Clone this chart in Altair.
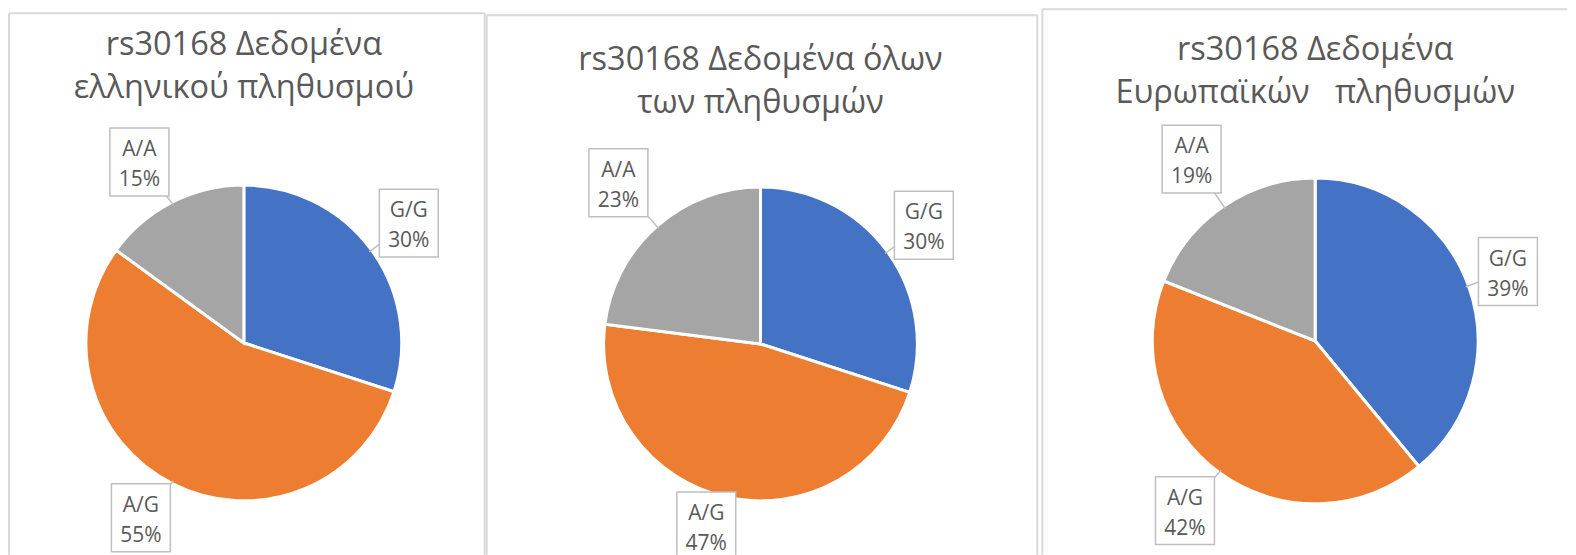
import altair as alt
import pandas as pd

# ---- data -------------------------------------------------------------
genotypes = ["G/G", "A/G", "A/A"]
greek_pct = [30, 55, 15]
all_pct = [30, 47, 23]
euro_pct = [39, 42, 19]
titles = [
    ["rs30168 Δεδομένα", "ελληνικού πληθυσμού"],
    ["rs30168 Δεδομένα όλων", "των πληθυσμών"],
    ["rs30168 Δεδομένα", "Ευρωπαϊκών\u00a0\u00a0 πληθυσμών"],
]
colors = ["#4472C4", "#ED7D31", "#A5A5A5"]

FONT = "Open Sans"
TXT = "#595959"
H = 547

# layout per panel: view width, pie centre, radius, border, title baselines,
# label callout distance (px) and angular nudge (deg) per slice
layouts = [
    dict(W=478, cx=236, cy=335, r=158, bl=1, bt=5, br=477, t1=47, t2=90,
         ld=[204, 203, 209], la=[0, 3.5, -3]),
    dict(W=554, cx=275, cy=336, r=157, bl=1, bt=7, br=552, t1=62, t2=105,
         ld=[202, 190, 215], la=[0, 4, 0]),
    dict(W=528, cx=276, cy=333, r=163, bl=3, bt=1, br=None, t1=52, t2=95,
         ld=[205, 214, 220], la=[0, 1.5, 0]),
]


def panel(values, title, L):
    df = pd.DataFrame({"genotype": genotypes, "pct": values,
                       "order": list(range(len(genotypes))),
                       "ld": L["ld"], "la": L["la"]})
    W, cx, cy, r = L["W"], L["cx"], L["cy"], L["r"]
    xs = alt.Scale(domain=[0, W], nice=False, zero=False)
    ys = alt.Scale(domain=[0, H], nice=False, zero=False, reverse=True)

    base = (
        alt.Chart(df)
        .transform_window(cum="sum(pct)", sort=[alt.SortField("order")],
                          frame=[None, 0])
        .transform_joinaggregate(total="sum(pct)")
        .transform_calculate(
            mid="2*PI*(datum.cum - datum.pct/2)/datum.total",
            pcttxt="datum.pct + '%'",
        )
        .transform_calculate(
            lmid="datum.mid + datum.la*PI/180",
        )
        .transform_calculate(
            lx=f"{cx} + datum.ld*sin(datum.lmid)",
            ly=f"{cy} - datum.ld*cos(datum.lmid)",
            ex=f"{cx} + {r - 3}*sin(datum.mid)",
            ey=f"{cy} - {r - 3}*cos(datum.mid)",
        )
        .transform_calculate(
            bx1="datum.lx - 29.5", bx2="datum.lx + 29.5",
            by1="datum.ly - 34", by2="datum.ly + 34",
        )
    )

    pie = alt.Chart(df).mark_arc(
        radius=r, stroke="white", strokeWidth=3
    ).encode(
        theta=alt.Theta("pct:Q", stack=True),
        order=alt.Order("order:Q"),
        color=alt.Color("genotype:N", scale=alt.Scale(domain=genotypes, range=colors),
                        legend=None),
        x=alt.value(cx),
        y=alt.value(cy),
    )

    tail = base.mark_rule(color="#BFBFBF", strokeWidth=1.5).encode(
        x=alt.X("ex:Q", scale=xs, axis=None),
        y=alt.Y("ey:Q", scale=ys, axis=None),
        x2="lx:Q", y2="ly:Q",
    )
    box = base.mark_rect(fill="white", stroke="#BFBFBF", strokeWidth=1.5,
                         clip=True).encode(
        x=alt.X("bx1:Q", scale=xs, axis=None), x2="bx2:Q",
        y=alt.Y("by1:Q", scale=ys, axis=None), y2="by2:Q",
    )
    lab1 = base.mark_text(font=FONT, fontSize=21, color=TXT, baseline="alphabetic",
                          dy=-6, clip=True).encode(
        x=alt.X("lx:Q", scale=xs, axis=None),
        y=alt.Y("ly:Q", scale=ys, axis=None),
        text="genotype:N",
    )
    lab2 = base.mark_text(font=FONT, fontSize=21, color=TXT, baseline="alphabetic",
                          dy=24, clip=True).encode(
        x=alt.X("lx:Q", scale=xs, axis=None),
        y=alt.Y("ly:Q", scale=ys, axis=None),
        text="pcttxt:N",
    )

    tdf = pd.DataFrame({"line": title, "row": list(range(len(title)))})
    ttl1 = alt.Chart(tdf).transform_filter("datum.row == 0").mark_text(
        font=FONT, fontSize=32.5, color=TXT, baseline="alphabetic"
    ).encode(x=alt.value(cx), y=alt.value(L["t1"]), text="line:N")
    ttl2 = alt.Chart(tdf).transform_filter("datum.row == 1").mark_text(
        font=FONT, fontSize=32.5, color=TXT, baseline="alphabetic"
    ).encode(x=alt.value(cx), y=alt.value(L["t2"]), text="line:N")

    bc = "#D9D9D9"
    borders = [
        alt.Chart(tdf).transform_filter("datum.row == 0").mark_rule(
            color=bc, strokeWidth=2).encode(
            x=alt.value(L["bl"]), x2=alt.value(L["br"] if L["br"] else W),
            y=alt.value(L["bt"])),
        alt.Chart(tdf).transform_filter("datum.row == 0").mark_rule(
            color=bc, strokeWidth=2).encode(
            x=alt.value(L["bl"]), y=alt.value(L["bt"]), y2=alt.value(H)),
    ]
    if L["br"]:
        borders.append(
            alt.Chart(tdf).transform_filter("datum.row == 0").mark_rule(
                color=bc, strokeWidth=2).encode(
                x=alt.value(L["br"]), y=alt.value(L["bt"]), y2=alt.value(H)))

    return alt.layer(*borders, ttl1, ttl2, pie, tail, box, lab1, lab2).properties(
        width=W, height=H
    )


chart = alt.hconcat(
    panel(greek_pct, titles[0], layouts[0]),
    panel(all_pct, titles[1], layouts[1]),
    panel(euro_pct, titles[2], layouts[2]),
    spacing=0,
).properties(padding=0).configure_view(stroke=None).resolve_scale(
    color="independent")

chart.save("out.html", embed_options={"renderer": "svg", "actions": False})
